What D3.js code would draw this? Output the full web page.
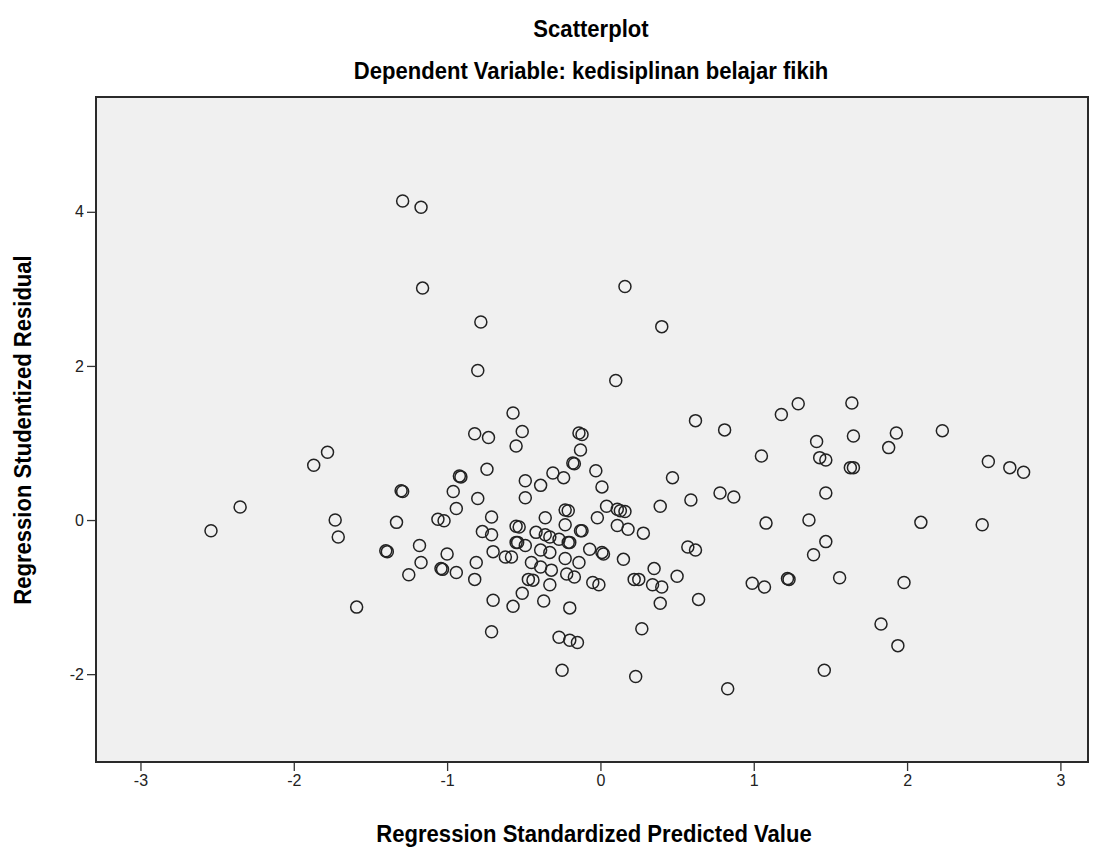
<!DOCTYPE html>
<html>
<head>
  <meta charset="utf-8">
  <script src="https://d3js.org/d3.v7.min.js"></script>
  <style>
    body { margin: 0; background: #fff; }
    text { font-family: "Liberation Sans", Arial, sans-serif; }
  </style>
</head>
<body>
<div id="chart"></div>
<script>
// predicted values (x) and studentized residuals (y)
var predicted = [
  -1.29, -1.17, -1.16, -0.78, -0.80, 0.16, 0.40, 0.10, 1.29, 1.18,
  0.62, 0.81, -0.57, -0.82, -0.73, -0.51, -0.55, -0.14, -0.12, -0.13,
  -0.18, -0.17, -0.03, -0.74, -0.92, -0.91, -0.49, -0.31, -0.24, 0.47,
  1.05, -0.39, 0.01, -0.96, -0.80, -0.94, -1.30, -1.29, -1.78, -1.87,
  -2.35, -2.54, -1.73, -1.71, -1.33, -1.06, -1.02, -1.40, -1.39, -1.18,
  -1.17, -1.25, -1.04, -1.03, -1.00, -0.94, -0.81, -0.82, -1.59, -0.71,
  1.64, 1.41, 1.65, 1.93, 1.88, 2.23, 1.43, 1.47, 1.63, 1.65,
  2.53, 2.67, 2.76, 1.47, 1.36, 2.09, 2.49, 1.47, 1.39, 1.22,
  1.23, 1.56, 1.98, 1.83, 1.94, 1.46,
  0.59, 0.78, 0.87, 0.39, 0.28, 1.08, 0.57, 0.62, 0.35, 0.50,
  0.34, 0.40, 0.25, 0.39, 0.64, 0.99, 1.07, 0.27, 0.23, 0.83,
  -0.49, 0.04, 0.11, 0.13, 0.16, -0.71, -0.23, -0.21, -0.36, -0.02,
  -0.55, -0.53, -0.23, 0.11, 0.18, -0.77, -0.71, -0.42, -0.36, -0.33,
  -0.27, -0.21, -0.20, -0.13, -0.12, -0.55, -0.54, -0.49, -0.70, -0.39,
  -0.33, -0.62, -0.58, -0.45, -0.39, -0.32, -0.23, -0.14, -0.22, -0.17,
  -0.07, 0.01, 0.02, 0.15, -0.47, -0.44, -0.33, -0.05, -0.01, 0.22,
  -0.51, -0.70, -0.57, -0.37, -0.20, -0.27, -0.20, -0.15, -0.25
];
var residual = [
  4.14, 4.06, 3.01, 2.57, 1.94, 3.03, 2.51, 1.81, 1.51, 1.37,
  1.29, 1.17, 1.39, 1.12, 1.07, 1.15, 0.96, 1.13, 1.11, 0.91,
  0.74, 0.73, 0.64, 0.66, 0.57, 0.56, 0.51, 0.61, 0.55, 0.55,
  0.83, 0.45, 0.43, 0.37, 0.28, 0.15, 0.38, 0.37, 0.88, 0.71,
  0.17, -0.14, 0.00, -0.22, -0.03, 0.01, -0.01, -0.40, -0.41, -0.33,
  -0.55, -0.71, -0.63, -0.64, -0.44, -0.68, -0.55, -0.77, -1.13, -1.45,
  1.52, 1.02, 1.09, 1.13, 0.94, 1.16, 0.81, 0.78, 0.68, 0.68,
  0.76, 0.68, 0.62, 0.35, 0.00, -0.03, -0.06, -0.28, -0.45, -0.76,
  -0.77, -0.75, -0.81, -1.35, -1.63, -1.95,
  0.26, 0.35, 0.30, 0.18, -0.17, -0.04, -0.35, -0.39, -0.63, -0.73,
  -0.84, -0.87, -0.77, -1.08, -1.03, -0.82, -0.87, -1.41, -2.03, -2.19,
  0.29, 0.18, 0.14, 0.12, 0.11, 0.04, 0.13, 0.12, 0.03, 0.03,
  -0.08, -0.09, -0.06, -0.07, -0.12, -0.15, -0.19, -0.16, -0.19, -0.22,
  -0.25, -0.29, -0.29, -0.14, -0.14, -0.29, -0.29, -0.33, -0.41, -0.39,
  -0.42, -0.48, -0.48, -0.55, -0.61, -0.65, -0.50, -0.55, -0.70, -0.74,
  -0.38, -0.42, -0.44, -0.51, -0.77, -0.78, -0.84, -0.81, -0.84, -0.77,
  -0.95, -1.04, -1.12, -1.05, -1.14, -1.52, -1.56, -1.59, -1.95
];
var xTicks = [-3, -2, -1, 0, 1, 2, 3];
var yTicks = [-2, 0, 2, 4];

var W = 1102, H = 868;
var margin = { top: 97, right: 14, bottom: 106, left: 96 };
var width = W - margin.left - margin.right;
var height = H - margin.top - margin.bottom;

var svg = d3.select('#chart').append('svg')
  .attr('width', W)
  .attr('height', H);

var g = svg.append('g')
  .attr('transform', 'translate(' + margin.left + ',' + margin.top + ')');

var x = d3.scaleLinear().domain([-3.29, 3.18]).range([0, width]);
var y = d3.scaleLinear().domain([-3.14, 5.49]).range([height, 0]);

// SPSS writes a plain hyphen for negatives
var fmt = function(d) { return String(d); };

// plot background
g.append('rect')
  .attr('width', width)
  .attr('height', height)
  .attr('fill', '#f0f0f0');

// axes
var xAxis = g.append('g')
  .attr('transform', 'translate(0,' + height + ')')
  .call(d3.axisBottom(x).tickValues(xTicks).tickSize(9).tickPadding(4).tickFormat(fmt));
var yAxis = g.append('g')
  .call(d3.axisLeft(y).tickValues(yTicks).tickSize(9).tickPadding(3).tickFormat(fmt));

[xAxis, yAxis].forEach(function(a) {
  a.select('.domain').remove();
  a.selectAll('line').attr('stroke', '#333').attr('stroke-width', 1.3);
  a.selectAll('text')
    .attr('fill', '#222')
    .style('font-size', '16px');
});

// points
g.append('g').selectAll('circle')
  .data(predicted.map(function(d, i) { return [d, residual[i]]; }))
  .enter()
  .append('circle')
  .attr('cx', function(d) { return x(d[0]); })
  .attr('cy', function(d) { return y(d[1]); })
  .attr('r', 6)
  .attr('fill', 'none')
  .attr('stroke', '#222')
  .attr('stroke-width', 1.5);

// frame
g.append('rect')
  .attr('width', width)
  .attr('height', height)
  .attr('fill', 'none')
  .attr('stroke', '#2a2a2a')
  .attr('stroke-width', 2);

// titles, a bit narrow like the original
function title(tr, s) {
  svg.append('text')
    .attr('transform', tr + ' scale(0.92,1)')
    .attr('text-anchor', 'middle')
    .style('font-size', '24px').style('font-weight', 'bold')
    .text(s);
}
title('translate(591,37)', 'Scatterplot');
title('translate(591,79)', 'Dependent Variable: kedisiplinan belajar fikih');
title('translate(594,842)', 'Regression Standardized Predicted Value');
title('translate(31,430) rotate(-90)', 'Regression Studentized Residual');
</script>
</body>
</html>
